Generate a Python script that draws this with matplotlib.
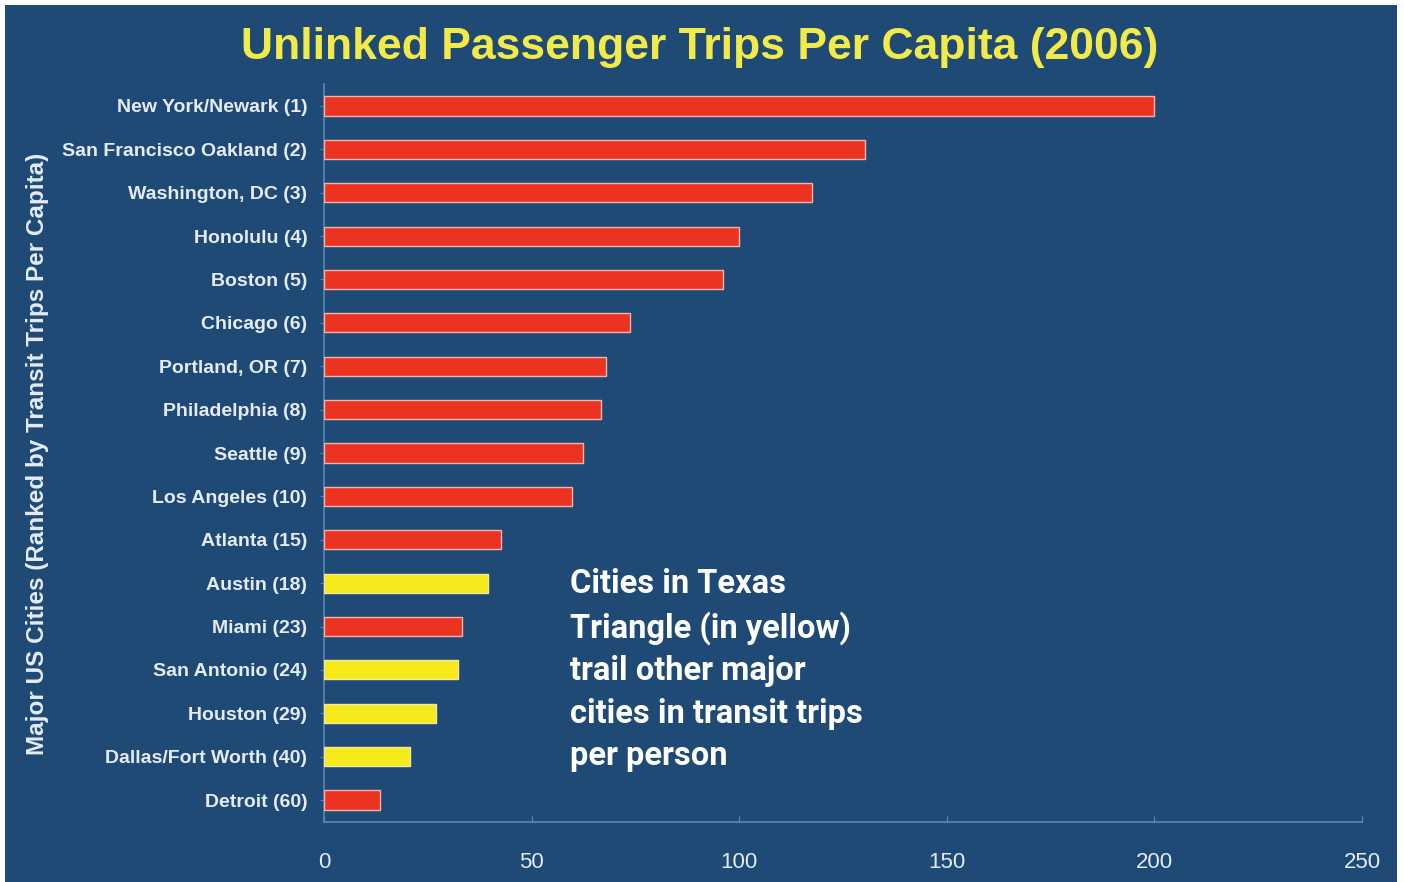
import numpy as np
import matplotlib.pyplot as plt
from matplotlib.patches import Rectangle

cities = ['New York/Newark (1)', 'San Francisco Oakland (2)', 'Washington, DC (3)',
          'Honolulu (4)', 'Boston (5)', 'Chicago (6)', 'Portland, OR (7)',
          'Philadelphia (8)', 'Seattle (9)', 'Los Angeles (10)', 'Atlanta (15)',
          'Austin (18)', 'Miami (23)', 'San Antonio (24)', 'Houston (29)',
          'Dallas/Fort Worth (40)', 'Detroit (60)']
trips = [200, 130.4, 117.6, 100, 96.1, 73.7, 68, 66.7, 62.4, 59.8, 42.7,
         39.5, 33.3, 32.3, 27, 20.7, 13.5]
texas = ['Austin (18)', 'San Antonio (24)', 'Houston (29)', 'Dallas/Fort Worth (40)']
xticks = [0, 50, 100, 150, 200, 250]

bg = '#1f4a76'
red = '#ea3320'
yellow = '#f6e91c'
axcol = '#5c86b3'
txt = '#e4ebf3'

fig = plt.figure(figsize=(14.04, 8.82), dpi=100)
fig.patch.set_facecolor('white')
# dark panel with thin white frame
fig.patches.append(Rectangle((5 / 1404, 0), 1392 / 1404, 877 / 882,
                             transform=fig.transFigure, facecolor=bg,
                             edgecolor='none', zorder=-1))

ax = fig.add_axes([324 / 1404, 1 - 821.7 / 882, (1362 - 324) / 1404, (821.7 - 84.3) / 882])
ax.set_facecolor(bg)
ax.set_zorder(1)

ypos = np.arange(len(cities))
colors = [yellow if c in texas else red for c in cities]
edges = ['#f3e8a0' if c in texas else '#f2b4aa' for c in cities]
ax.barh(ypos, trips, height=0.44, color=colors, edgecolor=edges, linewidth=1.0, zorder=3)

ax.set_ylim(len(cities) - 0.5, -0.5)
ax.set_xlim(0, 250)
ax.set_yticks(ypos)
ax.set_yticklabels(cities, fontsize=14, fontweight='bold', color=txt,
                   family='Liberation Sans')
ax.set_xticks(xticks)
ax.set_xticklabels([str(v) for v in xticks], fontsize=16, color=txt,
                   family='Liberation Sans')
ax.tick_params(axis='y', length=3, color=axcol, pad=9)
ax.tick_params(axis='x', length=4, color=axcol, pad=22, direction='in')

for s in ['top', 'right']:
    ax.spines[s].set_visible(False)
for s in ['left', 'bottom']:
    ax.spines[s].set_color(axcol)
    ax.spines[s].set_linewidth(1.2)

fig.text(700 / 1404, 1 - 47 / 882, 'Unlinked Passenger Trips Per Capita (2006)',
         ha='center', va='center', fontsize=32, fontweight='bold',
         color='#f2ea48', family='Liberation Sans')

fig.text(38 / 1404, 1 - 454 / 882,
         'Major US Cities (Ranked by Transit Trips Per Capita)',
         rotation=90, ha='center', va='center', fontsize=17.5, fontweight='bold',
         color=txt, family='Liberation Sans')

note = ('Cities in Texas\nTriangle (in yellow)\ntrail other major\n'
        'cities in transit trips\nper person')
fig.text(570 / 1404, 1 - 568 / 882, note, ha='left', va='top', fontsize=23.5,
         fontweight='bold', color='white', family='Roboto', linespacing=1.42)

fig.savefig('out.png', dpi=100, facecolor=fig.get_facecolor())
